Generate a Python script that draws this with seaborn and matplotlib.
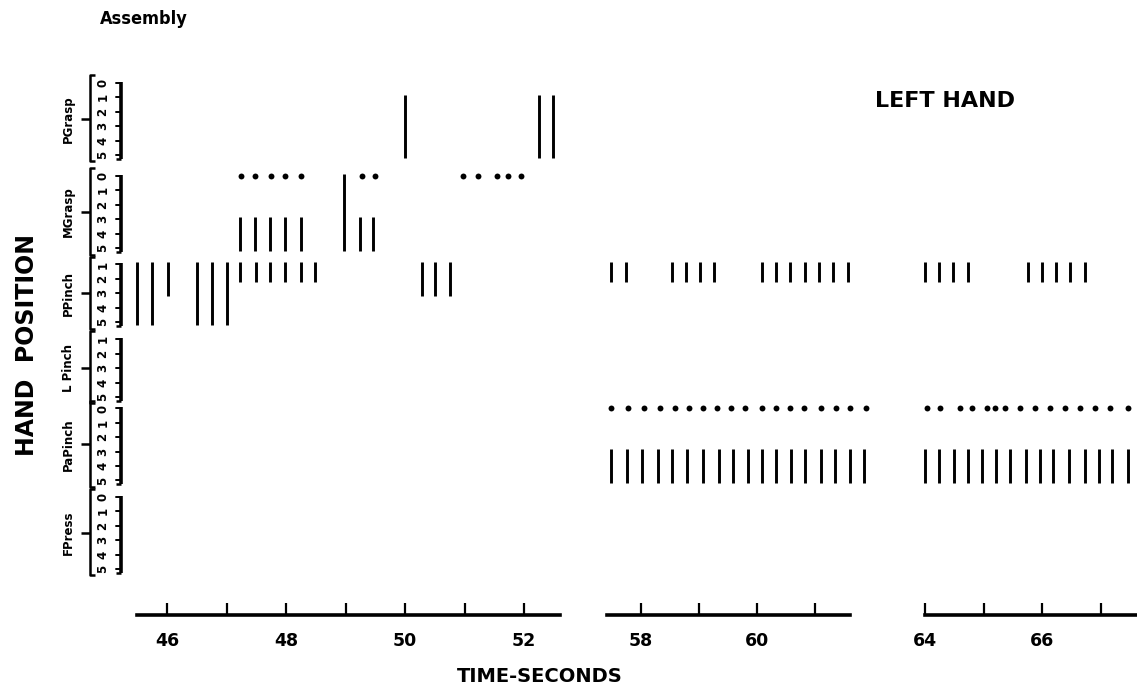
import numpy as np
import pandas as pd
import matplotlib
matplotlib.use("Agg")
import matplotlib.pyplot as plt
import seaborn as sns

sns.set_theme(style="white")
plt.rcParams["font.family"] = ["DejaVu Sans"]
plt.rcParams["text.color"] = "black"
plt.rcParams["xtick.color"] = "black"
plt.rcParams["xtick.labelcolor"] = "black"

# ---------------------------------------------------------------- data
groups = ["PGrasp", "MGrasp", "PPinch", "L Pinch", "PaPinch", "FPress"]
scale_levels = [
    [0, 1, 2, 3, 4, 5],
    [0, 1, 2, 3, 4, 5],
    [1, 2, 3, 4, 5],
    [1, 2, 3, 4, 5],
    [0, 1, 2, 3, 4, 5],
    [0, 1, 2, 3, 4, 5],
]

# vertical marks: time (s), from level, to level
pgrasp_t = [50.0, 52.25, 52.49]
pgrasp_lo = [1, 1, 1]
pgrasp_hi = [5, 5, 5]

mgrasp_t = [47.23, 47.48, 47.73, 47.98, 48.25, 48.97, 49.24, 49.46]
mgrasp_lo = [3, 3, 3, 3, 3, 0, 3, 3]
mgrasp_hi = [5, 5, 5, 5, 5, 5, 5, 5]

ppinch_t = [45.50, 45.75, 46.02, 46.50, 46.76, 47.01, 47.23, 47.50, 47.73,
            47.98, 48.25, 48.49, 50.29, 50.50, 50.76,
            57.48, 57.74, 58.53, 58.78, 59.02, 59.26, 60.09, 60.33, 60.57,
            60.83, 61.07, 61.31, 61.57,
            64.00, 64.24, 64.48, 64.74, 65.76, 66.00, 66.24, 66.48, 66.74]
ppinch_lo = [1] * 37
ppinch_hi = [5, 5, 3, 5, 5, 5, 2, 2, 2, 2, 2, 2, 3, 3, 3,
             2, 2, 2, 2, 2, 2, 2, 2, 2, 2, 2, 2, 2,
             2, 2, 2, 2, 2, 2, 2, 2, 2]

papinch_t = [57.48, 57.75, 58.02, 58.29, 58.54, 58.80, 59.07, 59.34, 59.58,
             59.84, 60.09, 60.33, 60.59, 60.83, 61.10, 61.34, 61.61, 61.85,
             64.00, 64.24, 64.50, 64.74, 64.98, 65.22, 65.45, 65.72, 65.96,
             66.19, 66.46, 66.73, 66.97, 67.20, 67.47]
papinch_lo = [3] * 33
papinch_hi = [5] * 33

# dots at level 0
mgrasp_dot_t = [47.24, 47.48, 47.75, 47.98, 48.25, 49.28, 49.50,
                50.97, 51.23, 51.55, 51.73, 51.95]
papinch_dot_t = [57.48, 57.78, 58.05, 58.32, 58.59, 58.83, 59.07, 59.31,
                 59.55, 59.79, 60.09, 60.33, 60.57, 60.81, 61.10, 61.37,
                 61.61, 61.88,
                 64.03, 64.26, 64.60, 64.80, 65.06, 65.20, 65.37, 65.62,
                 65.88, 66.14, 66.39, 66.65, 66.91, 67.16, 67.47]

# time axis pieces: ticks and labels
seg1_ticks = [46, 47, 48, 49, 50, 51, 52]
seg1_labels = ["46", "", "48", "", "50", "", "52"]
seg2_ticks = [58, 59, 60, 61]
seg2_labels = ["58", "", "60", ""]
seg3_ticks = [64, 65, 66, 67]
seg3_labels = ["64", "", "66", ""]

# ---------------------------------------------------------------- layout
W, H = 1137, 692
fig = plt.figure(figsize=(W / 100, H / 100), dpi=100)
fig.patch.set_facecolor("white")


def px_axes(x0, y0, x1, y1):
    return fig.add_axes([x0 / W, 1 - y1 / H, (x1 - x0) / W, (y1 - y0) / H])


UNIT = 14.4          # pixels per level step
TOP_PX, BOT_PX, ZERO_PX = 70, 615, 83
ylim = ((BOT_PX - ZERO_PX) / UNIT, (TOP_PX - ZERO_PX) / UNIT)
group_base = [0.0, 6.46, 11.6, 16.8, 22.6, 28.75]

bars = pd.concat([
    pd.DataFrame({"group": "PGrasp", "time": pgrasp_t, "lo": pgrasp_lo, "hi": pgrasp_hi}),
    pd.DataFrame({"group": "MGrasp", "time": mgrasp_t, "lo": mgrasp_lo, "hi": mgrasp_hi}),
    pd.DataFrame({"group": "PPinch", "time": ppinch_t, "lo": ppinch_lo, "hi": ppinch_hi}),
    pd.DataFrame({"group": "PaPinch", "time": papinch_t, "lo": papinch_lo, "hi": papinch_hi}),
], ignore_index=True)
dots = pd.concat([
    pd.DataFrame({"group": "MGrasp", "time": mgrasp_dot_t, "level": 0}),
    pd.DataFrame({"group": "PaPinch", "time": papinch_dot_t, "level": 0}),
], ignore_index=True)

base_of = dict(zip(groups, group_base))
bars["y0"] = bars["group"].map(base_of) + bars["lo"] - 0.15
bars["y1"] = bars["group"].map(base_of) + bars["hi"] + 0.2
dots["y"] = dots["group"].map(base_of) + dots["level"]

# (pixel span, reference tick, its pixel, px per second, ticks, labels, line bounds)
segments = [
    ((135, 560), 46, 167, 59.5, seg1_ticks, seg1_labels, (45.5, 52.6)),
    ((606, 872), 58, 641, 58.0, seg2_ticks, seg2_labels, (57.42, 61.6)),
    ((901, 1137), 64, 925, 58.5, seg3_ticks, seg3_labels, (64.0, 67.65)),
]

for (p0, p1), tref, pref, scale, ticks, labels, bounds in segments:
    ax = px_axes(p0, TOP_PX, p1, BOT_PX)
    lo_t = tref + (p0 - pref) / scale
    hi_t = tref + (p1 - pref) / scale
    sel = bars[(bars.time >= lo_t) & (bars.time <= hi_t)]
    ax.vlines(sel.time, sel.y0, sel.y1, color="black", lw=2.1, capstyle="butt")
    dsel = dots[(dots.time >= lo_t) & (dots.time <= hi_t)]
    if len(dsel):
        sns.scatterplot(data=dsel, x="time", y="y", ax=ax, color="black",
                        s=18, linewidth=0, legend=False)
    ax.set_xlim(lo_t, hi_t)
    ax.set_ylim(*ylim)
    ax.set_facecolor("none")
    for side in ["top", "left", "right"]:
        ax.spines[side].set_visible(False)
    ax.spines["bottom"].set_visible(True)
    ax.spines["bottom"].set_color("black")
    ax.spines["bottom"].set_linewidth(2.6)
    ax.spines["bottom"].set_bounds(*bounds)
    ax.set_yticks([])
    ax.set_xticks(ticks)
    ax.set_xticklabels(labels)
    ax.tick_params(axis="x", bottom=True, direction="in", length=9, width=1.6,
                   color="black", labelcolor="black", pad=12, labelsize=12.5)
    for t in ax.get_xticklabels():
        t.set_fontweight("bold")
    ax.set_xlabel("")
    ax.set_ylabel("")

# hand-position scale on the left
axy = px_axes(40, TOP_PX, 128, BOT_PX)
axy.set_xlim(40, 128)
axy.set_ylim(*ylim)
axy.axis("off")
kw = dict(color="black", lw=1.8, solid_capstyle="butt")
for name, b, lv in zip(groups, group_base, scale_levels):
    top, bot = b + lv[0], b + lv[-1]
    mid = (top + bot) / 2
    axy.plot([95, 90, 90, 95], [top - 0.55, top - 0.55, bot + 0.45, bot + 0.45], **kw)
    axy.plot([81, 90], [mid, mid], **kw)
    axy.plot([121, 121], [top - 0.1, bot + 0.25], color="black", lw=2.6,
             solid_capstyle="butt")
    axy.plot([116, 121], [bot + 0.25, bot + 0.25], **kw)
    for v in lv:
        axy.plot([116, 121], [b + v, b + v], color="black", lw=1.4)
        axy.text(103, b + v, str(v), rotation=90, ha="center", va="center",
                 fontsize=8.5, fontweight="bold", color="black")
    axy.text(68, mid, name, rotation=90, ha="center", va="center",
             fontsize=8.5, fontweight="bold", color="black")

# titles and axis names
fig.text(100 / W, 1 - 19 / H, "Assembly", ha="left", va="center",
         fontsize=13, fontweight="bold", fontstretch="condensed", color="black")
fig.text(945 / W, 1 - 101 / H, "LEFT HAND", ha="center", va="center",
         fontsize=16, fontweight="bold", color="black")
fig.text(27 / W, 1 - 345 / H, "HAND  POSITION", ha="center", va="center",
         rotation=90, fontsize=17, fontweight="bold", color="black")
fig.text(540 / W, 1 - 677 / H, "TIME-SECONDS", ha="center", va="center",
         fontsize=14, fontweight="bold", color="black")

fig.savefig("out.png", dpi=100, facecolor="white")
